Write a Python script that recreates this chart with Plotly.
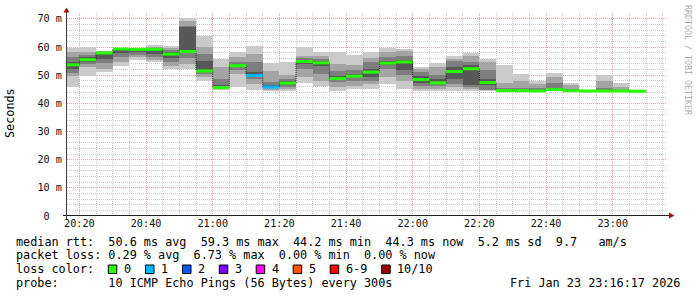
import plotly.graph_objects as go
import pandas as pd

# ---------------- data ----------------
bin_start = pd.date_range("2026-01-23 20:15:00", periods=35, freq="5min")
view_start = "2026-01-23 20:16:17"
view_end = "2026-01-23 23:16:17"

# sorted ping rtts (ms) per 5-minute bin, rank 1 (fastest) .. rank 10 (slowest)
p1 = [45.7, 49.6, 51.0, 53.4, 55.5, 54.8, 52.2, 52.2, 48.0, 44.8, 45.9, 44.9, 44.3, 44.3, 47.2, 46.3, 44.3, 45.1,
      45.1, 46.9, 45.1, 44.3, 44.3, 44.3, 44.3, 44.3, 44.3, 44.3, 44.3, 44.3, 44.3, 44.3, 44.3, 44.3, 44.2]
p2 = [49.9, 52.8, 52.2, 54.8, 56.4, 55.5, 53.4, 54.0, 49.3, 45.2, 50.4, 46.9, 44.8, 45.0, 49.3, 48.0, 45.9, 46.3,
      46.9, 49.3, 48.0, 45.2, 45.2, 45.9, 45.0, 44.6, 44.4, 44.4, 44.4, 44.5, 44.4, 44.3, 44.3, 44.3, 44.3]
p3 = [50.7, 53.9, 54.2, 56.4, 57.3, 56.4, 54.6, 56.0, 50.5, 45.4, 51.8, 48.5, 45.4, 45.7, 52.3, 50.5, 47.5, 48.1,
      48.1, 52.3, 50.2, 46.2, 46.2, 47.0, 45.7, 44.9, 44.4, 44.4, 44.4, 44.6, 44.4, 44.4, 44.4, 44.4, 44.3]
p4 = [52.3, 54.6, 55.6, 57.8, 58.2, 57.5, 56.2, 57.8, 51.2, 45.5, 52.8, 49.5, 45.7, 46.5, 53.9, 53.2, 48.3, 49.2,
      49.5, 53.5, 51.8, 47.3, 47.0, 48.7, 46.5, 46.5, 44.5, 44.5, 44.5, 44.8, 44.5, 44.4, 44.4, 44.4, 44.3]
p5 = [53.5, 55.3, 57.7, 59.1, 59.0, 58.9, 57.2, 58.3, 51.4, 45.6, 53.3, 49.8, 45.8, 47.1, 54.8, 54.2, 48.7, 49.6,
      50.9, 54.1, 54.4, 48.3, 47.2, 51.1, 52.0, 47.2, 44.5, 44.5, 44.5, 44.9, 44.5, 44.4, 44.4, 44.4, 44.3]
p6 = [54.0, 55.7, 58.1, 59.3, 59.3, 59.3, 57.8, 58.5, 51.6, 45.7, 53.5, 50.0, 45.9, 47.3, 55.0, 54.6, 48.9, 49.8,
      51.3, 54.5, 54.9, 48.7, 47.4, 51.5, 52.5, 47.6, 44.5, 44.5, 44.5, 44.9, 44.5, 44.4, 44.4, 44.4, 44.3]
p7 = [54.6, 56.4, 58.3, 59.35, 59.4, 59.5, 58.4, 67.1, 55.0, 46.4, 54.1, 51.1, 46.5, 48.0, 55.5, 55.0, 49.9, 50.5,
      52.2, 55.0, 55.5, 49.7, 48.5, 53.0, 53.5, 48.5, 44.6, 44.7, 44.6, 45.3, 44.6, 44.4, 44.5, 44.4, 44.4]
p8 = [56.4, 57.3, 58.4, 59.4, 59.5, 59.8, 59.0, 67.4, 57.5, 48.5, 54.8, 54.6, 47.5, 48.6, 56.1, 55.8, 51.6, 52.0,
      54.6, 56.4, 56.8, 51.0, 50.2, 55.0, 54.8, 51.9, 45.4, 45.6, 45.3, 47.3, 45.1, 44.5, 45.3, 44.6, 44.4]
p9 = [58.2, 58.2, 58.5, 59.45, 59.6, 60.2, 59.5, 69.2, 59.9, 52.8, 56.6, 57.5, 51.6, 50.2, 57.0, 57.0, 53.9, 53.8,
      56.1, 58.2, 58.7, 52.2, 52.8, 55.8, 57.0, 54.8, 47.2, 48.0, 46.8, 49.3, 46.6, 44.5, 47.8, 45.9, 44.4]
p10 = [59.5, 59.9, 58.7, 59.5, 59.7, 60.9, 60.3, 70.4, 64.0, 55.9, 58.3, 60.5, 54.2, 54.8, 60.1, 58.1, 58.1, 57.3,
       58.3, 59.5, 59.3, 53.0, 54.4, 56.8, 58.0, 55.9, 53.5, 50.6, 47.9, 50.9, 47.4, 44.6, 50.2, 47.3, 44.5]

median = [53.7, 55.5, 57.9, 59.3, 59.2, 59.2, 57.5, 58.4, 51.5, 45.6, 53.4, 49.9, 45.8, 47.2, 54.9, 54.4, 48.8, 49.7,
          51.1, 54.3, 54.7, 48.5, 47.3, 51.3, 52.3, 47.4, 44.5, 44.5, 44.4, 44.9, 44.5, 44.4, 44.4, 44.4, 44.3]
# number of lost pings per bin (index into loss classes)
loss = [0, 0, 0, 0, 0, 0, 0, 0, 0, 0, 0, 1, 1, 0, 0, 0, 0, 0,
        0, 0, 0, 0, 0, 0, 0, 0, 0, 0, 0, 0, 0, 0, 0, 0, 0]

loss_labels = ["0", "1", "2", "3", "4", "5", "6-9", "10/10"]
loss_colors = ["#26ff00", "#00b8ff", "#0059ff", "#7e00ff", "#ff00ff", "#ff5500", "#ff0000", "#a10000"]
smoke_greys = ["#cacaca", "#a4a4a4", "#7e7e7e", "#585858", "#323232"]

y_tickvals = [0, 10, 20, 30, 40, 50, 60, 70]
y_ticktext = ["0\u00a0\u00a0", "10 m", "20 m", "30 m", "40 m", "50 m", "60 m", "70 m"]

line_rtt = "median rtt:  50.6 ms avg  59.3 ms max  44.2 ms min  44.3 ms now  5.2 ms sd  9.7   am/s"
line_loss = "packet loss: 0.29 % avg  6.73 % max  0.00 % min  0.00 % now"
line_color = "loss color:"
line_probe = "probe:       10 ICMP Echo Pings (56 Bytes) every 300s"
stamp = "Fri Jan 23 23:16:17 2026"
watermark = "RRDTOOL / TOBI OETIKER"

# ---------------- geometry helpers (layout only) ----------------
W, H = 697, 297
ML, MR, MT, MB = 67, 30, 13, 81
PW, PH = W - ML - MR, H - MT - MB
Y0 = H - MB


def px(x):
    return (x - ML) / PW


def py(y):
    return (Y0 - y) / PH


MONO = "DejaVu Sans Mono"
TXT = 11.8

ranks = [p1, p2, p3, p4, p5, p6, p7, p8, p9, p10]
step = pd.Timedelta("5min")
centers = bin_start + step / 2
bin_end = bin_start + step

fig = go.Figure()

# smoke: nested bands between rank i and rank 11-i
for i in range(5):
    lo = ranks[i]
    hi = ranks[9 - i]
    fig.add_trace(go.Bar(
        x=centers, base=lo, y=[h - l for h, l in zip(hi, lo)],
        width=step.total_seconds() * 1000,
        marker=dict(color=smoke_greys[i], line=dict(width=0)),
        hoverinfo="skip", showlegend=False,
    ))

# thin stepped median line
fig.add_trace(go.Scatter(
    x=list(bin_start) + [bin_end[-1]], y=median + [median[-1]],
    mode="lines", line=dict(shape="hv", color="#202020", width=1, dash="1px,1px"),
    hoverinfo="skip", showlegend=False,
))

# coloured median segments by loss
for k, col in enumerate(loss_colors):
    xs, ys = [], []
    for s, e, m, l in zip(bin_start, bin_end, median, loss):
        if l == k:
            xs += [s, e, None]
            ys += [m, m, None]
    if xs:
        fig.add_trace(go.Scatter(x=xs, y=ys, mode="lines", line=dict(color=col, width=3),
                                 hoverinfo="skip", showlegend=False))

fig.update_layout(
    width=W, height=H,
    margin=dict(l=ML, r=MR, t=MT, b=MB, pad=0),
    paper_bgcolor="white", plot_bgcolor="white",
    barmode="overlay", bargap=0, showlegend=False,
    font=dict(family=MONO, size=10.2, color="#111"),
)

fig.update_xaxes(
    type="date", range=[view_start, view_end],
    tickformat="%H:%M", dtick=20 * 60 * 1000, tick0="2026-01-23 20:20:00",
    showgrid=True, gridcolor="#eba3a3", gridwidth=1, griddash="1px,1px",
    minor=dict(dtick=5 * 60 * 1000, tick0="2026-01-23 20:20:00", showgrid=True,
               gridcolor="#cdcdcd", gridwidth=1, griddash="1px,1px"),
    showline=False, zeroline=False, ticks="", layer="above traces",
    tickfont=dict(family=MONO, size=10.2, color="#111"),
    fixedrange=True,
)
fig.update_yaxes(
    range=[0, 72.1], tickvals=y_tickvals, ticktext=y_ticktext,
    showgrid=True, gridcolor="#eba3a3", gridwidth=1, griddash="1px,1px",
    minor=dict(dtick=2, showgrid=True, gridcolor="#cdcdcd", gridwidth=1, griddash="1px,1px"),
    showline=False, zeroline=False, ticks="", layer="above traces",
    ticklabelstandoff=4,
    tickfont=dict(family=MONO, size=10.2, color="#111"),
    fixedrange=True,
)

shapes = []
# axis lines
shapes.append(dict(type="line", xref="paper", yref="paper", x0=px(63), x1=px(670), y0=py(215.5), y1=py(215.5),
                   line=dict(color="#202020", width=1)))
shapes.append(dict(type="line", xref="paper", yref="paper", x0=px(66.5), x1=px(66.5), y0=py(219), y1=py(11),
                   line=dict(color="#404040", width=1)))
# arrow heads
shapes.append(dict(type="path", xref="paper", yref="paper",
                   path=f"M {px(66.5)},{py(7.5)} L {px(63.5)},{py(12.5)} L {px(69.5)},{py(12.5)} Z",
                   fillcolor="#a01010", line=dict(width=0)))
shapes.append(dict(type="path", xref="paper", yref="paper",
                   path=f"M {px(674.5)},{py(215.5)} L {px(669)},{py(212.5)} L {px(669)},{py(218.5)} Z",
                   fillcolor="#a01010", line=dict(width=0)))

annotations = []


def txt(x, y, s, size=TXT, anchor="left", color="#000", angle=0):
    annotations.append(dict(
        x=px(x), y=py(y), xref="paper", yref="paper", text=s.replace(" ", "\u00a0"),
        showarrow=False, xanchor=anchor, yanchor="middle", textangle=angle,
        font=dict(family=MONO, size=size, color=color), borderpad=0,
    ))


txt(10, 113, "Seconds", anchor="center", angle=-90)
txt(688, 60, watermark, size=8.3, anchor="center", color="#b0b0b0", angle=90)
txt(15, 241.5, line_rtt)
txt(15, 255.2, line_loss)
txt(15, 269, line_color)
txt(15, 282.8, line_probe)
txt(681, 282.8, stamp, anchor="right")

# loss colour legend boxes
box_x = [108.3, 145.5, 182.5, 219.3, 256.2, 293.2, 330.2, 381.7]
for bx, col, lab in zip(box_x, loss_colors, loss_labels):
    shapes.append(dict(type="rect", xref="paper", yref="paper",
                       x0=px(bx), x1=px(bx + 8.5), y0=py(273.5), y1=py(265),
                       fillcolor=col, line=dict(color="#000", width=1)))
    txt(bx + 14.5, 269, lab)

fig.update_layout(shapes=shapes, annotations=annotations)

fig.write_html("out.html")
